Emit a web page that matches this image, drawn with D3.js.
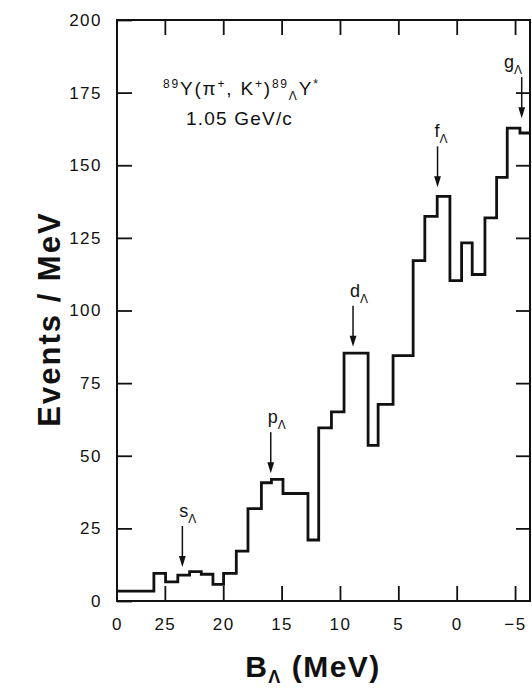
<!DOCTYPE html>
<html>
<head>
<meta charset="utf-8">
<script src="https://cdn.jsdelivr.net/npm/d3@7"></script>
<style>
  body { margin: 0; background: #fff; }
  svg { display: block; }
  text { font-family: "Liberation Sans", Arial, Helvetica, sans-serif; fill: #111; }
</style>
</head>
<body>
<svg id="chart" width="532" height="692"></svg>
<script>
// bin edges (B_Lambda, MeV) and counts
const binEdges = [29.1, 25.94, 24.94, 23.89, 22.88, 21.88, 20.88, 19.97, 18.88, 17.88,
    16.73, 15.87, 14.88, 12.74, 11.82, 10.73, 9.65, 7.59, 6.73, 5.45,
    3.73, 2.73, 1.67, 0.58, -0.42, -1.33, -2.42, -3.42, -4.33, -5.42, -6.28]
const binCounts = [3.4, 9.5, 6.6, 8.9, 10.1, 9.2, 5.7, 9.5, 17.2, 31.8,
    40.7, 41.9, 37.0, 21.0, 59.6, 65.1, 85.3, 53.6, 67.7, 84.5,
    117.2, 132.4, 139.3, 110.3, 123.3, 112.4, 131.9, 145.8, 162.8, 161.1]

// shell markers: position, arrow tip (events) and label
const shellLabels = ["s", "p", "d", "f", "g"]
const shellX = [23.5, 15.93, 8.88, 1.64, -5.57]
const shellTip = [11.7, 44.0, 87.5, 142.4, 166.2]

const yTicks = [0, 25, 50, 75, 100, 125, 150, 175, 200]
const xTicks = [25, 20, 15, 10, 5, 0, -5]
const xEdgeLabel = "0"

const svg = d3.select("#chart")
const pLeft = 117, pRight = 530, pTop = 20, pBottom = 601

const x = d3.scaleLinear().domain([binEdges[0], binEdges[binEdges.length - 1]]).range([pLeft, pRight])
const y = d3.scaleLinear().domain([0, 200]).range([pBottom, pTop])

// axes, ticks pointing inward
function styleAxis(g) {
    g.select(".domain").remove()
    g.selectAll(".tick line").attr("stroke", "#111").attr("stroke-width", 1.8)
    g.selectAll(".tick text")
        .attr("fill", "#111")
        .style("font-size", "17px")
        .style("letter-spacing", "1.5px")
        .style("font-family", '"Liberation Sans", Arial, sans-serif')
}

svg.append("g")
    .attr("transform", `translate(${pLeft},0)`)
    .call(d3.axisLeft(y).tickValues(yTicks).tickSize(-15).tickPadding(15).tickFormat(d3.format("d")))
    .call(styleAxis)

svg.append("g")
    .attr("transform", `translate(${pRight},0)`)
    .call(d3.axisRight(y).tickValues(yTicks.slice(1, -1)).tickSize(-14).tickFormat(""))
    .call(styleAxis)

svg.append("g")
    .attr("transform", `translate(0,${pBottom})`)
    .call(d3.axisBottom(x).tickValues([binEdges[0]].concat(xTicks)).tickSize(-15).tickPadding(17)
        .tickFormat((d, i) => i === 0 ? xEdgeLabel : d3.format("d")(d)))
    .call(styleAxis)
    .call(g => g.select(".tick line").remove())

svg.append("g")
    .attr("transform", `translate(0,${pTop})`)
    .call(d3.axisTop(x).tickValues(xTicks).tickSize(-15).tickFormat(""))
    .call(styleAxis)

// frame
svg.append("rect")
    .attr("x", pLeft).attr("y", pTop)
    .attr("width", pRight - pLeft).attr("height", pBottom - pTop)
    .attr("fill", "none").attr("stroke", "#111").attr("stroke-width", 2)

// histogram
const steps = binCounts.map((c, i) => [binEdges[i], c])
steps.push([binEdges[binEdges.length - 1], binCounts[binCounts.length - 1]])

svg.append("path")
    .datum(steps)
    .attr("fill", "none")
    .attr("stroke", "#111")
    .attr("stroke-width", 2.8)
    .attr("stroke-linejoin", "miter")
    .attr("d", d3.line().x(d => x(d[0])).y(d => y(d[1])).curve(d3.curveStepAfter))

// arrows + labels
const arrowLen = 41, headLen = 11, headW = 3.4
const marks = svg.append("g")
shellLabels.forEach((lab, i) => {
    const ax = x(shellX[i]), tip = y(shellTip[i])
    marks.append("line")
        .attr("x1", ax).attr("x2", ax)
        .attr("y1", tip - arrowLen).attr("y2", tip - headLen + 1)
        .attr("stroke", "#111").attr("stroke-width", 1.5)
    marks.append("path")
        .attr("d", `M${ax - headW},${tip - headLen}L${ax + headW},${tip - headLen}L${ax},${tip}Z`)
        .attr("fill", "#111")
    const t = marks.append("text")
        .attr("x", ax - 3)
        .attr("y", tip - arrowLen - 9)
        .style("font-size", "18px")
    t.append("tspan").text(lab)
    t.append("tspan").attr("dy", 6).style("font-size", "12px").text("Λ")
    const w = t.node().getComputedTextLength()
    if (ax - 3 + w > pRight - 2) t.attr("x", pRight - 8 - w)
})

// reaction text
function richText(sel, parts) {
    let shift = 0
    parts.forEach(([s, kind]) => {
        const want = kind === "sup" ? -7 : kind === "sub" ? 5 : 0
        sel.append("tspan")
            .attr("dy", want - shift)
            .style("font-size", kind ? "12px" : "19px")
            .text(s)
        shift = want
    })
}

const reaction = svg.append("text")
    .attr("x", 163).attr("y", 95)
    .style("letter-spacing", "1.8px")
richText(reaction, [["89", "sup"], ["Y(π", null], ["+", "sup"], [",  K", null], ["+", "sup"],
    [")", null], ["89", "sup"], ["Λ", "sub"], ["Y", null], ["*", "sup"]])

svg.append("text")
    .attr("x", 186).attr("y", 125)
    .style("font-size", "19px")
    .style("letter-spacing", "1.2px")
    .text("1.05 GeV/c")

// axis titles
svg.append("text")
    .attr("transform", "translate(60,319) rotate(-90)")
    .attr("text-anchor", "middle")
    .style("font-size", "31px")
    .style("font-weight", "bold")
    .style("letter-spacing", "2px")
    .text("Events / MeV")

const xt = svg.append("text")
    .attr("x", 313).attr("y", 677)
    .attr("text-anchor", "middle")
    .style("font-size", "30px")
    .style("font-weight", "bold")
    .style("letter-spacing", "1.5px")
xt.append("tspan").text("B")
xt.append("tspan").attr("dy", 6).style("font-size", "18px").text("Λ")
xt.append("tspan").attr("dy", -6).text(" (MeV)")
</script>
</body>
</html>
